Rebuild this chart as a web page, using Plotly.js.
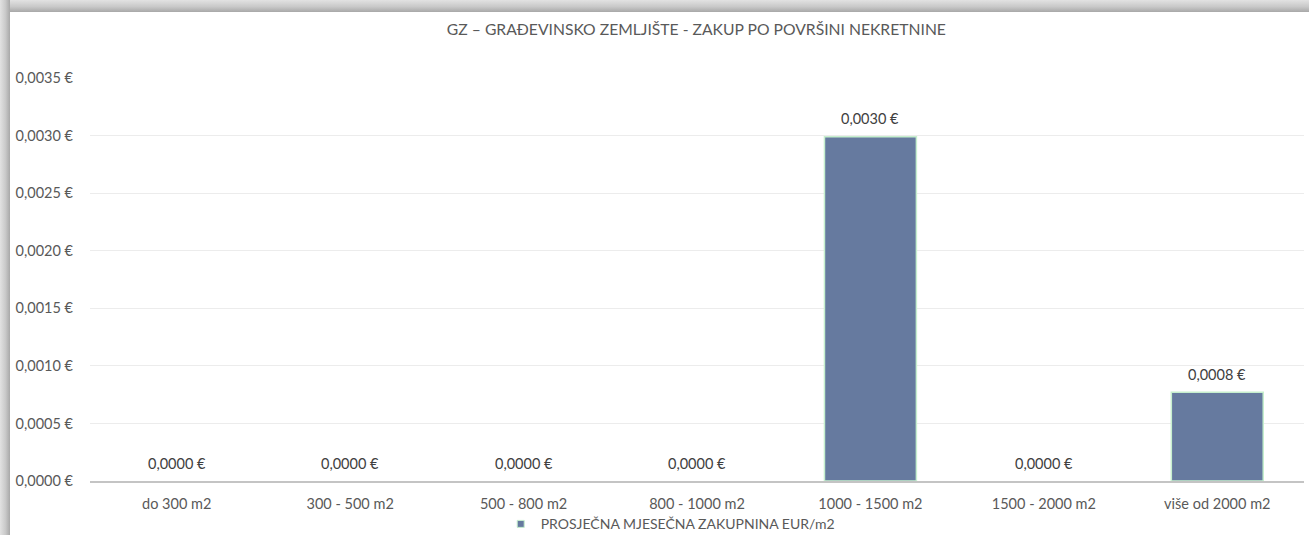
<!DOCTYPE html>
<html>
<head>
<meta charset="utf-8">
<script src="https://cdn.plot.ly/plotly-3.0.1.min.js"></script>
<style>
  html, body { margin: 0; padding: 0; background: #ffffff; }
  #frame { position: absolute; left: 0; top: 0; width: 1309px; height: 535px; overflow: hidden; }
  #topband { position: absolute; left: 0; top: 0; width: 1309px; height: 12px;
    background: linear-gradient(to bottom, #e2e2e2 0%, #c9c9c9 55%, #a8a8a8 100%); }
  #leftband { position: absolute; left: 0; top: 0; width: 10px; height: 535px;
    background: linear-gradient(to right, #e2e2e2 0%, #c9c9c9 55%, #a8a8a8 100%); }
  #chart { position: absolute; left: 0; top: 0; width: 1309px; height: 535px; }
</style>
</head>
<body>
<div id="frame">
  <div id="chart"></div>
  <div id="topband"></div>
  <div id="leftband"></div>
</div>
<script>
const categories = ["do 300 m2", "300 - 500 m2", "500 - 800 m2", "800 - 1000 m2", "1000 - 1500 m2", "1500 - 2000 m2", "više od 2000 m2"];
const values = [0, 0, 0, 0, 0.00299, 0, 0.00077];
const seriesName = "PROSJEČNA MJESEČNA ZAKUPNINA EUR/m2";
const chartTitle = "GZ – GRAĐEVINSKO ZEMLJIŠTE - ZAKUP PO POVRŠINI NEKRETNINE";

const fmt = v => v.toFixed(4).replace(".", ",") + " €";
const FONT = "Lato, Open Sans, sans-serif";
const BAR = "#667a9f";
const EDGE = "#c6efce";

const trace = {
  type: "bar",
  x: categories,
  y: values,
  name: seriesName,
  showlegend: false,
  width: 0.53,
  marker: { color: BAR, line: { color: EDGE, width: values.map(v => v > 0 ? 1.5 : 0) } },
  hoverinfo: "none"
};

// legend-only entry with a small square swatch (no data drawn)
const legendEntry = {
  type: "scatter", mode: "markers",
  x: [null], y: [null],
  name: seriesName,
  marker: { symbol: "square", size: 7, color: BAR, line: { color: EDGE, width: 1 } },
  hoverinfo: "none"
};

const annotations = categories.map((c, i) => ({
  x: c, y: values[i], xref: "x", yref: "y",
  text: fmt(values[i]), showarrow: false,
  yanchor: "middle", yshift: 18,
  font: { family: FONT, size: 14.5, color: "#404040" }
}));

const layout = {
  width: 1309, height: 535,
  paper_bgcolor: "rgba(0,0,0,0)", plot_bgcolor: "#ffffff",
  margin: { l: 90, r: 5, t: 78, b: 54 },
  font: { family: FONT, size: 14.5, color: "#595959" },
  title: { text: chartTitle, x: 0.532, xanchor: "center", y: 0.944, yanchor: "middle",
           font: { family: FONT, size: 15.7, color: "#595959" } },
  xaxis: {
    type: "category", showgrid: false, zeroline: false,
    showline: true, linecolor: "#c4c4c4", linewidth: 2,
    ticks: "", ticklabelstandoff: 9, automargin: false,
    tickfont: { family: FONT, size: 14.5, color: "#595959" }
  },
  yaxis: {
    range: [0, 0.0035], dtick: 0.0005, tick0: 0,
    tickformat: ".4f", ticksuffix: " €",
    showgrid: true, gridcolor: "#ececec", gridwidth: 1,
    zeroline: false, showline: false, ticks: "", automargin: false,
    ticklabelstandoff: 16,
    tickfont: { family: FONT, size: 14.5, color: "#595959" }
  },
  separators: ",.",
  showlegend: true,
  legend: {
    orientation: "h", xref: "container", yref: "container",
    x: 0.512, xanchor: "center", y: 0.02, yanchor: "middle",
    font: { family: FONT, size: 14, color: "#595959" },
    itemwidth: 30, tracegroupgap: 0,
    itemclick: false, itemdoubleclick: false
  },
  annotations: annotations
};

Plotly.newPlot("chart", [trace, legendEntry], layout, { displayModeBar: false, staticPlot: true });
</script>
</body>
</html>
